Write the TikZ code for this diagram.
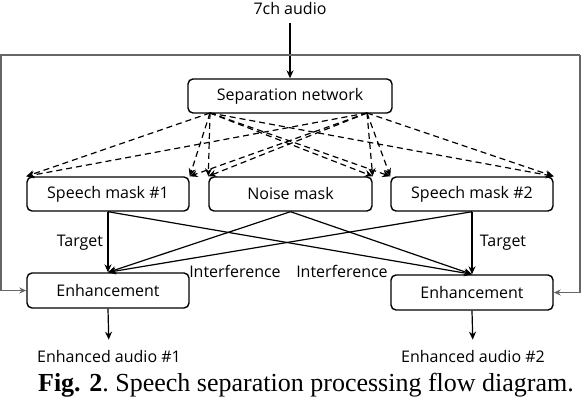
\documentclass[tikz,border=0pt]{standalone}
\usepackage{fontspec}
\setmainfont{Liberation Serif}
\newfontfamily\diagfont{Open Sans}
\usetikzlibrary{arrows.meta}
\begin{document}
\begin{tikzpicture}[x=1pt,y=-1pt,
  dfont/.style={font=\diagfont\fontsize{16}{18}\selectfont},
  box/.style={draw,rounded corners=5pt,line width=1.4pt,minimum height=34pt,
    minimum width=162pt,inner sep=0pt,dfont},
  lbl/.style={dfont,inner sep=0pt},
  arr/.style={-{Stealth[length=8pt,width=7pt]},line width=1.2pt},
  dsh/.style={-{Stealth[length=8pt,width=7pt]},line width=1.2pt,dash pattern=on 6pt off 4pt},
  frm/.style={draw=black!60,line width=1.3pt,-{Stealth[length=7pt,width=6pt]}}]
\useasboundingbox (0,0) rectangle (582,404);
% nodes
\node[lbl] (audio) at (290,9) {7ch audio};
\node[box,minimum width=204pt] (sep) at (290,96) {Separation network};
\node[box] (m1) at (108,194) {Speech mask \#1};
\node[box,minimum width=163pt] (noise) at (290.5,194) {Noise mask};
\node[box] (m2) at (472,194) {Speech mask \#2};
\node[box,minimum height=35pt] (e1) at (108,290.5) {Enhancement};
\node[box,minimum height=35pt] (e2) at (472,292.5) {Enhancement};
\node[lbl] (t1) at (80,243) {Target};
\node[lbl] (t2) at (503,243) {Target};
\node[lbl] (i1) at (235,271) {Interference};
\node[lbl] (i2) at (342,271) {Interference};
\node[lbl] (o1) at (109,356) {Enhanced audio \#1};
\node[lbl] (o2) at (473,356) {Enhanced audio \#2};
\node[inner sep=0pt,font=\fontsize{26}{28}\selectfont] (cap) at (306,385)
  {\textbf{Fig. 2}.\ Speech separation processing flow diagram.};
% frame coordinates and dashed sources
\coordinate (ftl) at (1,55);
\coordinate (ftr) at (580,55);
\coordinate (s1) at (210,113);
\coordinate (s2) at (367,113);
% input
\draw[arr,shorten <=8pt] (audio.south) -- (sep.north);
% feedback frame
\draw[frm] (ftr) -- (ftl) -- (ftl |- e1.west) -- (e1.west);
\draw[frm] (ftr) -- (ftr |- e2.east) -- (e2.east);
% dashed mask arrows
\foreach \s in {s1,s2}{
  \foreach \t in {m1.north west,m1.north east,noise.north west,noise.north east,m2.north west,m2.north east}{
    \draw[dsh] (\s) -- (\t);
  }
}
% solid connections
\draw[arr] (m1.south) -- (e1.north);
\draw[arr] (m1.south) -- (e2.north);
\draw[arr] (noise.south) -- (e1.north);
\draw[arr] (noise.south) -- (e2.north);
\draw[arr] (m2.south) -- (e1.north);
\draw[arr] (m2.south) -- (e2.north);
% outputs
\draw[arr,shorten >=10pt] (e1.south) -- (o1.north);
\draw[arr,shorten >=10pt] (e2.south) -- (o2.north);
\end{tikzpicture}
\end{document}
